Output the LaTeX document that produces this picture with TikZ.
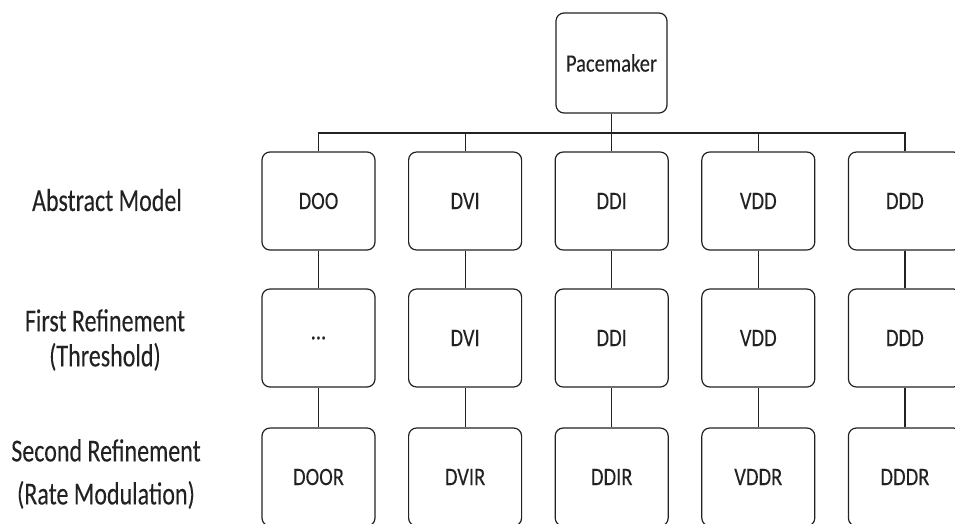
\documentclass[tikz,border=0pt]{standalone}
\usepackage{fontspec}
\usepackage{tikz}
\usetikzlibrary{positioning,calc}
\newfontfamily\narrowfont{Carlito}[FakeStretch=0.82,FakeBold=0.12]
\newfontfamily\labelfont{Carlito}[FakeStretch=0.75,FakeBold=0.12]
\definecolor{inkgray}{HTML}{222222}
\newcommand{\elided}{...}
\tikzset{%
  mode box/.style={
    draw=inkgray,
    line width=1.2pt,
    rounded corners=8pt,
    minimum width=113pt,
    minimum height=98pt,
    text=inkgray,
    font=\narrowfont\fontsize{25}{28}\selectfont
  },
  level label/.style={
    align=center,
    text=inkgray,
    font=\labelfont\fontsize{32}{35}\selectfont
  },
  tree line/.style={
    draw=inkgray,
    line width=1.2pt
  },
}

\begin{document}
\begin{tikzpicture}[x=1pt, y=-1pt]

\useasboundingbox (0,0) rectangle (955,523);
\clip (0,0) rectangle (955,523);

\node [mode box, minimum width=111pt, minimum height=100pt] (pacemaker) at (611.5,63) {Pacemaker};
\coordinate (bus) at (611.5,133);

% row labels
\node [level label] (lbl-abstract) at (107,200) {Abstract Model};
\node [level label] (lbl-first) at (105,340) {First Refinement\\(Threshold)};
\node [level label] (lbl-second) at (106,474) {Second Refinement\\[8pt](Rate Modulation)};

% one column per mode
\foreach \m/\r/\s [count=\i] in {DOO/\elided/DOOR, DVI/DVI/DVIR, DDI/DDI/DDIR, VDD/VDD/VDDR, DDD/DDD/DDDR}
{
  \node [mode box] (abstract-\i) at (318.5+146.6*\i-146.6,201) {\m};
  \node [mode box] (first-\i) at (318.5+146.6*\i-146.6,338) {\r};
  \node [mode box] (second-\i) at (318.5+146.6*\i-146.6,477) {\s};
}

\draw [tree line] (pacemaker) -- (bus);
\foreach \i in {1,...,5}
{
  \draw [tree line] (abstract-\i.north) |- (bus);
  \draw [tree line] (abstract-\i) -- (first-\i);
  \draw [tree line] (first-\i) -- (second-\i);
}

\end{tikzpicture}
\end{document}
